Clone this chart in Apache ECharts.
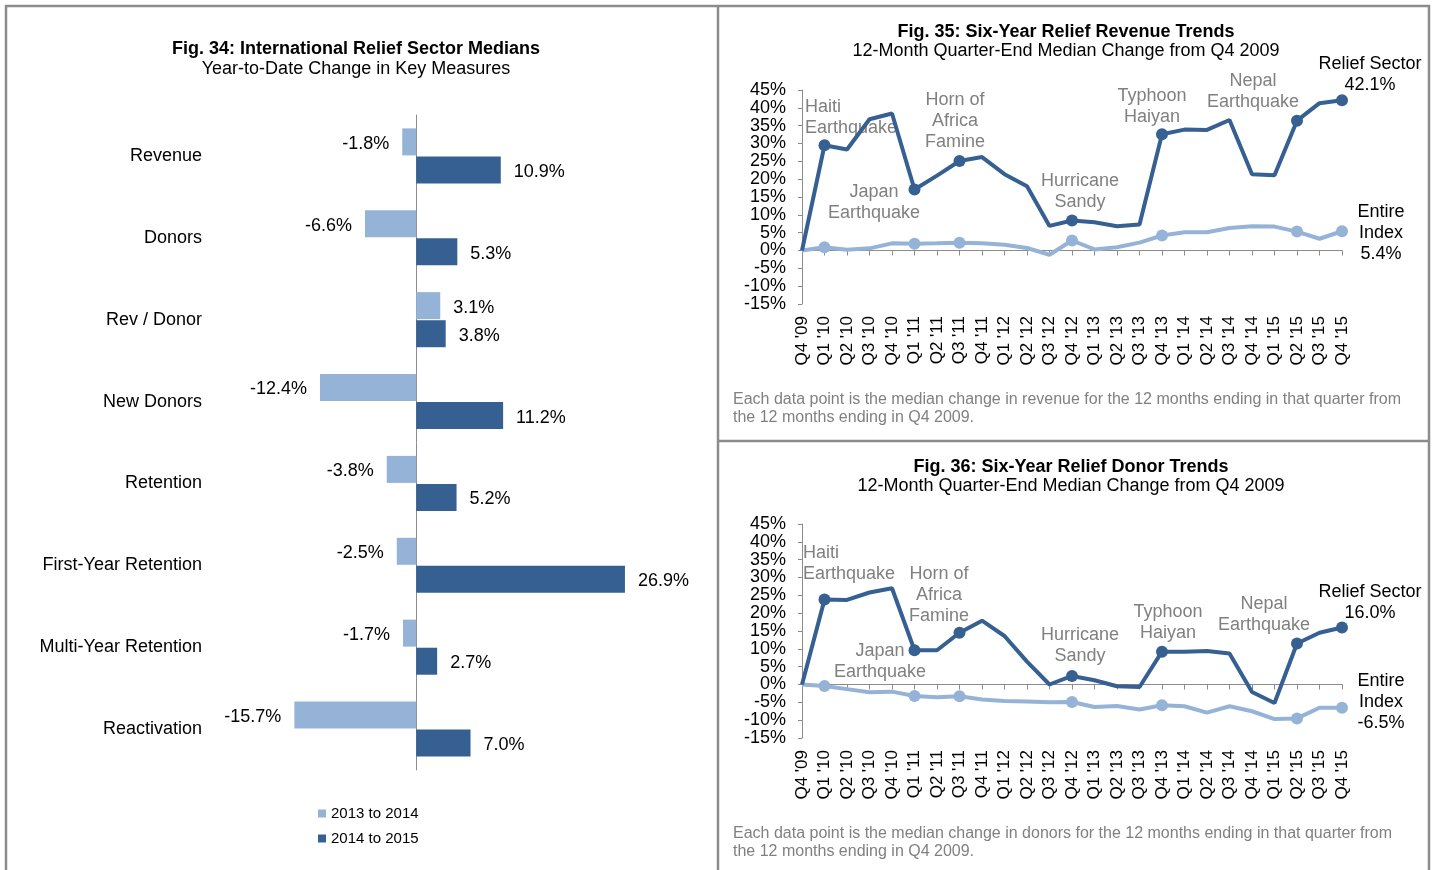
<!DOCTYPE html>
<html style="height: 100%">
   <head>
       <meta charset="utf-8">
   </head>
   <body style="height: 100%; margin: 0; background: #fff">
       <div id="container" style="width: 1437px; height: 870px"></div>
       <script type="text/javascript" src="https://cdn.jsdelivr.net/npm/echarts@6/dist/echarts.min.js"></script>
       <script type="text/javascript">
// fig 34 - bar chart
var measures = ['Revenue', 'Donors', 'Rev / Donor', 'New Donors', 'Retention', 'First-Year Retention', 'Multi-Year Retention', 'Reactivation'];
var change1314 = [-1.8, -6.6, 3.1, -12.4, -3.8, -2.5, -1.7, -15.7];
var change1415 = [10.9, 5.3, 3.8, 11.2, 5.2, 26.9, 2.7, 7.0];

// fig 35 / 36 - quarterly lines
var quarters = ["Q4 '09", "Q1 '10", "Q2 '10", "Q3 '10", "Q4 '10", "Q1 '11", "Q2 '11", "Q3 '11", "Q4 '11",
  "Q1 '12", "Q2 '12", "Q3 '12", "Q4 '12", "Q1 '13", "Q2 '13", "Q3 '13", "Q4 '13",
  "Q1 '14", "Q2 '14", "Q3 '14", "Q4 '14", "Q1 '15", "Q2 '15", "Q3 '15", "Q4 '15"];
var revenueRelief = [0, 29.5, 28.3, 36.8, 38.4, 17.1, 21.0, 25.1, 26.2, 21.4, 18.0, 6.9, 8.4, 7.9, 6.8, 7.3, 32.6, 33.9, 33.8, 36.6, 21.4, 21.1, 36.4, 41.3, 42.1];
var revenueIndex = [0, 0.9, 0.2, 0.6, 2.0, 1.9, 2.0, 2.2, 2.0, 1.6, 0.7, -1.2, 2.8, 0.3, 0.9, 2.2, 4.2, 5.1, 5.1, 6.3, 6.8, 6.7, 5.3, 3.3, 5.4];
var donorRelief = [0, 23.8, 23.7, 25.8, 27.0, 9.6, 9.6, 14.5, 17.9, 13.6, 6.4, 0.0, 2.4, 1.2, -0.5, -0.7, 9.2, 9.2, 9.4, 8.7, -2.1, -5.2, 11.5, 14.5, 16.0];
var donorIndex = [0, -0.4, -1.3, -2.2, -2.0, -3.2, -3.6, -3.3, -4.2, -4.6, -4.8, -5.0, -4.9, -6.3, -6.0, -7.0, -5.8, -6.1, -7.9, -6.1, -7.5, -9.7, -9.5, -6.5, -6.5];
var markerIdx = [1, 5, 7, 12, 16, 22, 24];

var FONT = "'Liberation Sans', Arial, sans-serif";
var DARK = '#366092';
var LIGHT = '#95B3D7';
var AXIS = '#8c8c8c';
var NOTE = '#808080';

var dom = document.getElementById("container");
var myChart = echarts.init(dom);

function pct(v) { return v.toFixed(1) + '%'; }

function barData(arr) {
  return arr.map(function (v) {
    return { value: v, label: { position: v < 0 ? 'left' : 'right' } };
  });
}

function lineSeries(data, color, x, y) {
  return {
    type: 'line',
    xAxisIndex: x,
    yAxisIndex: y,
    data: data,
    showSymbol: true,
    showAllSymbol: true,
    symbol: 'circle',
    symbolSize: function (val, params) {
      return markerIdx.indexOf(params.dataIndex) >= 0 ? 12 : 0;
    },
    lineStyle: { color: color, width: 4 },
    itemStyle: { color: color },
    z: color === DARK ? 4 : 3,
    silent: true
  };
}

function txt(x, y, text, color, align) {
  return {
    type: 'text', x: x, y: y, silent: true,
    style: {
      text: text, fill: color, font: '18px ' + FONT, lineHeight: 21,
      textAlign: align || 'center', align: align || 'center',
      textVerticalAlign: 'top', verticalAlign: 'top'
    }
  };
}

function note(y, text) {
  return {
    type: 'text', x: 733, y: y, silent: true,
    style: { text: text, fill: NOTE, font: '16px ' + FONT, lineHeight: 18, textAlign: 'left', align: 'left', textVerticalAlign: 'top', verticalAlign: 'top' }
  };
}

function border(x1, y1, x2, y2) {
  return { type: 'line', silent: true, shape: { x1: x1, y1: y1, x2: x2, y2: y2 }, style: { stroke: '#8c8c8c', lineWidth: 2.5 } };
}

var valAxis = function (grid) {
  return {
    type: 'value', gridIndex: grid, min: -15, max: 45, interval: 5,
    axisLine: { show: true, lineStyle: { color: AXIS, width: 1 } },
    axisTick: { show: true, length: 4, lineStyle: { color: AXIS } },
    splitLine: { show: false },
    axisLabel: {
      formatter: '{value}%', color: '#000', fontSize: 18, fontFamily: FONT, margin: 16,
      showMinLabel: true, showMaxLabel: true, hideOverlap: false
    }
  };
};
var zeroAxis = function (grid) {
  return {
    type: 'category', gridIndex: grid, data: quarters, boundaryGap: false, position: 'bottom',
    axisLine: { onZero: true, lineStyle: { color: AXIS, width: 1 } },
    axisTick: { show: true, length: 5, interval: 0, lineStyle: { color: AXIS } },
    axisLabel: { show: false }
  };
};
var labelAxis = function (grid) {
  return {
    type: 'category', gridIndex: grid, data: quarters, boundaryGap: false, position: 'bottom',
    axisLine: { show: false, onZero: false },
    axisTick: { show: false },
    axisLabel: { interval: 0, rotate: 90, color: '#000', fontSize: 17, fontFamily: FONT, margin: 12 }
  };
};

var barLabel = {
  show: true, distance: 13, offset: [0, 2], color: '#000', fontSize: 18, fontFamily: FONT,
  formatter: function (p) { return pct(p.value); }
};

option = {
  backgroundColor: '#fff',
  animation: false,
  textStyle: { fontFamily: FONT },
  title: [
    {
      text: 'Fig. 34: International Relief Sector Medians', subtext: 'Year-to-Date Change in Key Measures',
      left: 351, top: 35, textAlign: 'center', itemGap: 2,
      textStyle: { fontSize: 18, fontWeight: 'bold', color: '#000', fontFamily: FONT },
      subtextStyle: { fontSize: 18, color: '#000', fontFamily: FONT }
    },
    {
      text: 'Fig. 35: Six-Year Relief Revenue Trends', subtext: '12-Month Quarter-End Median Change from Q4 2009',
      left: 1061, top: 18, textAlign: 'center', itemGap: 1,
      textStyle: { fontSize: 18, fontWeight: 'bold', color: '#000', fontFamily: FONT },
      subtextStyle: { fontSize: 18, color: '#000', fontFamily: FONT }
    },
    {
      text: 'Fig. 36: Six-Year Relief Donor Trends', subtext: '12-Month Quarter-End Median Change from Q4 2009',
      left: 1066, top: 453, textAlign: 'center', itemGap: 1,
      textStyle: { fontSize: 18, fontWeight: 'bold', color: '#000', fontFamily: FONT },
      subtextStyle: { fontSize: 18, color: '#000', fontFamily: FONT }
    }
  ],
  legend: {
    orient: 'vertical', left: 313, top: 801, itemWidth: 8, itemHeight: 8, itemGap: 10,
    icon: 'rect', data: ['2013 to 2014', '2014 to 2015'],
    textStyle: { fontSize: 15, color: '#000', fontFamily: FONT }
  },
  grid: [
    { left: 261, width: 388, top: 115, height: 655, outerBoundsMode: 'none', containLabel: false },
    { left: 802, width: 540, top: 90, height: 214, outerBoundsMode: 'none', containLabel: false },
    { left: 802, width: 540, top: 524, height: 214, outerBoundsMode: 'none', containLabel: false }
  ],
  xAxis: [
    { type: 'value', gridIndex: 0, min: -20, max: 30, show: false, splitLine: { show: false } },
    zeroAxis(1), labelAxis(1),
    zeroAxis(2), labelAxis(2)
  ],
  yAxis: [
    {
      type: 'category', gridIndex: 0, data: measures, inverse: true,
      axisLine: { onZero: true, lineStyle: { color: AXIS, width: 1 } },
      axisTick: { show: false },
      axisLabel: { color: '#000', fontSize: 18, fontFamily: FONT, margin: 59 }
    },
    valAxis(1),
    valAxis(2)
  ],
  series: [
    {
      name: '2013 to 2014', type: 'bar', xAxisIndex: 0, yAxisIndex: 0,
      data: barData(change1314), barWidth: 27, barGap: '4%',
      itemStyle: { color: LIGHT },
      label: barLabel
    },
    {
      name: '2014 to 2015', type: 'bar', xAxisIndex: 0, yAxisIndex: 0,
      data: barData(change1415), barWidth: 27, barGap: '4%',
      itemStyle: { color: DARK },
      label: barLabel
    },
    lineSeries(revenueIndex, LIGHT, 1, 1),
    lineSeries(revenueRelief, DARK, 1, 1),
    lineSeries(donorIndex, LIGHT, 3, 2),
    lineSeries(donorRelief, DARK, 3, 2)
  ],
  graphic: [
    border(6, 6, 1430, 6),
    border(6, 5, 6, 870),
    border(718, 5, 718, 870),
    border(1429, 5, 1429, 870),
    border(718, 441, 1429, 441),

    // fig 35 notes
    txt(805, 97, 'Haiti\nEarthquake', NOTE, 'left'),
    txt(955, 90, 'Horn of\nAfrica\nFamine', NOTE),
    txt(874, 182, 'Japan\nEarthquake', NOTE),
    txt(1080, 171, 'Hurricane\nSandy', NOTE),
    txt(1152, 86, 'Typhoon\nHaiyan', NOTE),
    txt(1253, 71, 'Nepal\nEarthquake', NOTE),
    txt(1370, 54, 'Relief Sector\n' + pct(revenueRelief[24]), '#000'),
    txt(1381, 202, 'Entire\nIndex\n' + pct(revenueIndex[24]), '#000'),
    note(391, 'Each data point is the median change in revenue for the 12 months ending in that quarter from\nthe 12 months ending in Q4 2009.'),

    // fig 36 notes
    txt(803, 543, 'Haiti\nEarthquake', NOTE, 'left'),
    txt(939, 564, 'Horn of\nAfrica\nFamine', NOTE),
    txt(880, 641, 'Japan\nEarthquake', NOTE),
    txt(1080, 625, 'Hurricane\nSandy', NOTE),
    txt(1168, 602, 'Typhoon\nHaiyan', NOTE),
    txt(1264, 594, 'Nepal\nEarthquake', NOTE),
    txt(1370, 582, 'Relief Sector\n' + pct(donorRelief[24]), '#000'),
    txt(1381, 671, 'Entire\nIndex\n' + pct(donorIndex[24]), '#000'),
    note(825, 'Each data point is the median change in donors for the 12 months ending in that quarter from\nthe 12 months ending in Q4 2009.')
  ]
};

if (option && typeof option === "object") {
  myChart.setOption(option, true);
}
</script>
   </body>
</html>
